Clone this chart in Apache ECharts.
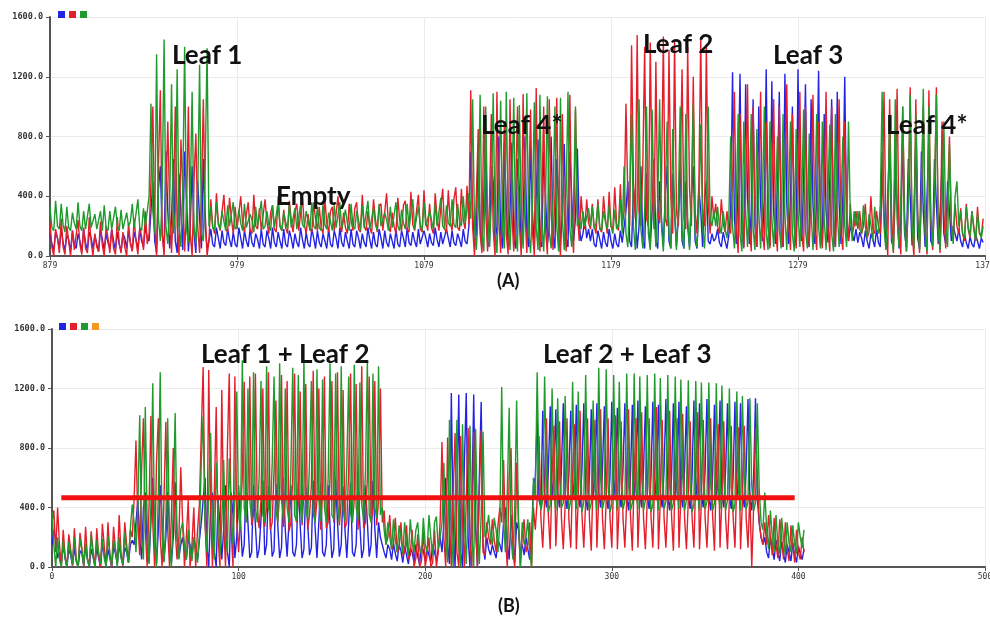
<!DOCTYPE html>
<html>
<head>
<meta charset="utf-8">
<script src="https://cdn.jsdelivr.net/npm/echarts@6/dist/echarts.min.js"></script>
<style>html,body{margin:0;padding:0;background:#fff}#c{width:990px;height:620px}</style>
</head>
<body>
<div id="c"></div>
<script>
// ---------- data (Arduino serial-plotter samples, one per x unit) ----------
const xStartA = 879;
const xStartB = 0;
const xTicksA = [879, 979, 1079, 1179, 1279, 1379];
const xTicksB = [0, 100, 200, 300, 400, 500];
const yTicks = [0, 400, 800, 1200, 1600];

const greenA = [
// baseline
330,190,170,370,200,180,350,210,160,330, 190,170,290,220,180,360,200,170,300,180, 170,350,190,200,280,180,240,300,170,340, 190,170,300,180,190,330,200,170,310,180, 180,290,200,230,350,190,200,380,190,170, 320,200,210,
// Leaf 1
400,1020,300,150,1350,250,100,400,1450,200, 80,350,1150,150,300,1250,200,60,450,1400, 180,90,380,1100,200,80,420,1280,150,100, 600,1390,
// Empty
200,330,190,170,360,210,180,300,230,170, 340,200,190,360,180,200,310,220,170,350, 190,180,280,240,160,330,200,190,370,180, 200,300,210,170,340,190,180,360,200,170,
290,230,180,350,190,200,320,180,170,340, 210,190,300,240,170,360,200,180,330,190, 170,350,210,180,290,230,170,340,190,200, 360,180,190,310,220,170,350,200,180,300,
240,170,340,190,200,370,180,190,320,210, 170,350,200,190,290,240,170,330,190,180, 360,200,170,310,220,180,350,190,200,380, 180,190,330,210,170,360,200,190,300,240,
180,350,200,190,390,200,180,340,220,200, 380,210,190,350,230,200,400,220,210,420,
// Leaf 4*
250,1050,200,40,300,1080,150,30,1000,250, 60,350,1090,180,20,400,1040,200,50,1100, 220,40,380,1060,150,30,1010,260,50,420, 1090,170,20,350,1030,190,40,1080,230,30, 400,1070,160,50,380,1000,200,30,1060,250, 40,420,1100,180,60,350,1000,200,250,180, 300,200,260,320,
// transition
200,330,180,220,350,190,170,300,230,180,340,200,150,310,180,200,380,150,
// Leaf 2
600,150,60,400,950,200,40,350,1050,180, 50,300,1000,150,40,980,300,60,350,1050, 200,30,400,900,150,50,850,300,40,350, 1000,180,50,950,250,40,400,1020,150,60, 300,880,200,50,350,1000,250,200,300,
// transition
200,330,200,150,300,180,120,250,
// Leaf 3
800,200,50,350,950,150,30,900,300,60, 400,950,180,40,850,300,50,380,1000,150, 40,900,250,60,350,800,180,50,950,280, 40,400,900,150,30,850,300,60,380,980, 170,50,820,300,40,350,950,200,50,900, 250,40,400,880,150,30,950,300,60,350, 800,200,60,900,250,100,300,200,
// transition
300,180,150,340,200,120,280,210,100,330,180,150,
// Leaf 4*
350,1100,200,40,300,900,150,30,1050,250, 60,400,1000,180,30,350,1080,200,50,950, 250,40,380,1120,150,30,1000,260,60,420, 1080,170,40,350,900,200,60,750,230,80, 400,500,200,
// end
300,150,120,330,200,130,300,180,100,280,170,120,200
];

const redA = [
230,60,0,180,120,20,250,60,10,200, 100,0,170,40,30,240,80,10,190,50, 20,260,90,0,150,60,30,230,70,0, 200,120,20,180,50,10,260,90,20,160, 60,0,220,80,30,250,100,10,190,130, 40,300,80,
150,500,1000,200,0,600,1110,150,0,400, 900,300,20,350,1000,200,0,780,450,30, 300,1000,150,0,500,820,200,20,400,1050, 300,0,
100,380,200,150,420,230,170,300,410,180, 160,390,250,150,330,180,170,400,220,160, 280,360,170,150,410,200,180,320,170,160, 380,230,150,290,340,180,160,400,200,170,
310,190,150,370,240,160,300,350,170,180, 390,210,150,280,180,160,360,250,170,330, 190,150,380,220,160,300,330,170,180,400, 200,160,290,190,150,350,240,170,320,360,
180,160,410,200,170,300,190,150,380,250, 160,330,350,170,180,420,200,160,290,200, 150,390,240,170,340,370,180,160,430,210, 170,300,410,180,160,440,230,170,350,190,
150,420,250,170,330,450,180,160,440,230, 170,380,460,190,170,450,240,180,470,210,
1110,200,0,400,850,150,20,1000,300,30, 350,950,180,0,1100,250,20,400,900,150, 10,1050,280,30,380,1000,200,0,1085,300, 20,420,980,160,0,1125,250,30,350,1000, 180,10,1050,300,40,400,1060,150,0,950, 280,30,380,1080,200,20,980,300,100,400, 250,180,380,220,
180,350,200,150,380,180,160,400,250,150,430,200,180,460,220,170,480,200,
300,1020,400,200,1410,500,250,1480,300,200, 600,1400,250,200,1430,450,180,1300,300,220, 500,1470,250,200,1380,400,150,1450,300,200, 550,1250,250,180,1400,450,200,1200,300,150, 500,1460,300,200,1420,350,150,400,250,
350,200,150,380,220,160,300,180,
150,500,1100,200,20,950,350,50,400,1150, 200,30,1000,300,60,450,1100,150,40,900, 350,50,400,1050,180,30,1000,280,60,500, 1150,200,40,950,300,50,420,1100,150,30, 1000,250,60,450,1080,180,40,900,300,50, 400,1100,200,30,1000,280,60,450,1050,150, 40,900,300,100,350,150,200,300,
180,300,150,200,350,120,160,400,180,150,300,200,
150,400,1100,200,0,1050,300,20,400,1120, 180,10,1000,280,30,380,1130,150,0,1050, 300,20,420,1000,180,10,1110,250,40,350, 1130,200,20,900,300,50,400,800,200,100, 350,200,150,
320,150,100,350,180,120,300,200,100,330,150,130,250
];

const blueA = [
150,80,40,160,120,50,180,90,40,140, 110,30,170,80,50,150,100,30,180,90, 40,160,120,50,140,80,30,170,110,40, 150,90,50,180,100,40,160,80,30,150, 120,50,170,90,40,160,110,50,180,100, 60,200,120,
100,300,500,100,20,450,600,150,30,700, 300,50,250,650,100,20,550,300,40,700, 400,30,200,600,150,20,500,250,50,650, 200,50,
100,180,80,60,190,120,50,170,90,70, 180,110,60,160,80,60,190,120,50,170, 100,60,180,90,60,150,110,50,180,80, 60,170,120,50,190,90,60,160,100,50,
180,80,60,170,120,50,150,90,60,190, 110,50,160,80,60,180,120,50,170,90, 60,150,100,50,180,80,60,170,120,50, 190,90,60,160,100,50,180,80,60,170,
120,50,150,90,60,190,110,50,160,80, 60,180,120,50,170,90,60,150,100,50, 180,80,60,170,120,60,190,90,70,160, 100,60,180,80,70,170,120,60,150,90,
70,190,110,60,160,80,70,180,120,60, 170,90,70,150,110,60,180,100,80,200,
700,300,60,150,750,200,50,400,780,100, 60,600,500,80,200,800,150,50,700,350, 60,300,760,120,50,650,450,70,250,800, 150,60,720,300,50,400,780,100,60,700, 400,80,200,800,150,50,650,350,70,300, 750,120,60,700,400,100,250,720,200,100, 150,250,120,180,
100,180,80,60,170,110,50,160,90,60,180,100,50,150,80,60,170,90,
80,300,500,100,60,450,300,50,200,600, 100,50,550,200,60,300,650,100,50,500, 250,60,400,600,100,50,550,300,60,250, 650,100,50,500,200,60,400,600,100,50, 450,300,60,350,500,100,80,150,100,
120,180,90,60,160,100,50,140,
300,1230,250,80,500,1220,150,60,1150,400, 80,300,1050,200,60,1000,350,100,400,1250, 200,70,1170,300,80,500,1100,150,60,1220, 350,80,400,1000,200,70,1250,300,100,500, 1150,150,60,1050,350,80,400,1240,200,70, 950,300,90,500,1050,150,60,1100,350,80, 400,1200,200,100,200,150,100,180,
90,160,120,60,170,100,50,150,110,60,180,90,
60,700,300,50,400,780,100,60,720,350, 50,250,800,150,60,650,400,70,300,760, 120,50,700,300,60,400,780,100,70,650, 350,80,300,600,150,80,500,300,100,200, 150,100,180,
100,60,150,90,50,130,80,60,140,100,50,120,90
];

const greenB = [
370,150,0,200,50,0,180,60,0,170, 90,20,200,40,0,190,110,10,160,50, 0,220,70,0,180,100,20,190,60,0, 210,90,10,180,120,0,200,60,20,230, 100,30,260,420,
300,100,400,1020,200,50,1075,300,20,400, 1235,150,0,500,1310,200,30,300,1000,150, 0,400,1035,200,50,250,
300,150,50,250,120,40,200,100,30,220,700,
1010,300,100,500,900,200,50,700,400,80, 300,720,200,100,730,400,150,500,1180,350, 250,1390,400,300,1200,450,320,1310,400,300, 600,1250,350,300,1350,400,330,700,1280,380,
300,1370,450,320,1200,400,300,650,1340,350, 310,1290,420,300,1380,400,320,700,1250,360, 300,1330,450,310,1260,400,300,600,1370,350, 320,1300,420,300,1350,380,310,700,1280,360,
300,1360,400,320,1240,420,310,650,1380,350, 300,1300,400,330,1350,350,
400,250,150,300,200,120,320,180,100,280, 200,90,300,150,80,320,180,100,250,300, 120,90,330,150,100,350,200,80,300,340, 120,200,
300,700,200,30,990,300,0,400,990,150, 0,960,300,20,400,950,200,0,930,300, 20,350,910,200,
250,350,200,150,330,250,100,300,
1210,300,100,500,1070,200,50,400,1120,300,0,
300,150,200,320,100,0,600,
450,1310,600,380, 450,1280,550,370, 420,1200,500, 380,1135,600,400, 430,1150,550,380, 450,1245,500,
390,1180,600,370, 440,1290,520,380, 430,1120,550, 380,1340,600,390, 450,1330,550,370, 420,1290,500,
380,1245,600,390, 440,1300,550,380, 430,1300,520, 390,1280,600,380, 450,1290,550,370, 420,1300,500,
380,1270,600,390, 440,1290,540,380, 430,1280,520, 390,1260,600,380, 450,1255,550,370, 420,1250,500,
380,1240,600,390, 440,1240,550,380, 430,1235,520, 390,1220,600,380, 450,1200,550,370, 420,1180,500,
380,1150,600,390, 440,1135,550,380, 430,1100,520, 300,250,
500,250,120,380,200,100,350,150,90,330, 200,80,300,160,100,280,150,90,300,200, 130,250
];

const redB = [
300,380,100,400,150,0,250,80,0,220, 120,10,260,50,0,230,130,0,270,60, 10,240,110,0,260,70,0,290,140,10, 300,80,0,270,120,20,350,90,10,300, 150,30,250,200,
450,850,300,80,650,1000,250,0,400,1015, 300,0,700,1000,200,0,450,975,250,0, 350,800,250,50,200,670,
300,0,200,450,0,150,400,0,250,420,900,
1345,300,0,1325,400,0,500,1075,200,0, 1190,300,0,800,1300,250,0,1280,300,100, 350,600,1245,300,500,1280,280,350,1300,400, 260,450,1200,270,400,1310,250,300,650,1120,
300,500,1290,270,450,1250,240,300,600,1300, 300,450,1180,280,500,1230,250,350,550,1320, 300,450,1200,250,500,1280,260,300,600,1250, 300,500,1310,280,450,1190,260,300,650,1300,
300,450,1230,250,500,1350,260,300,600,1280, 300,400,1250,280,450,1200,
300,380,150,200,350,120,150,330,100,120, 300,80,100,280,50,80,250,0,60,220, 0,40,240,0,80,200,0,30,250,0, 100,300,
840,200,0,870,300,0,500,900,100,0, 880,300,0,450,935,150,0,910,250,0, 500,920,100,80,
300,200,150,320,180,100,280,400,
300,720,200,0,600,800,100,0,700,300,0,
200,320,100,150,300,0,400,
250,450,880,330, 130,450,1000,350, 120,620,950, 140,450,980,330, 120,420,1000,320, 130,600,960,
120,450,1050,350, 130,440,1000,330, 110,620,990, 130,460,1060,330, 120,450,1000,340, 130,600,1020,
120,440,980,330, 130,450,1060,350, 110,620,1000, 130,460,1040,330, 120,450,1000,340, 130,600,1075,
120,440,990,330, 130,450,1050,350, 110,620,1000, 130,460,1030,330, 120,450,980,340, 130,600,1040,
120,440,990,330, 130,450,1000,350, 110,620,960, 130,460,980,330, 120,450,950,340, 130,600,940,
120,440,950,330, 130,500,0,400, 935,600,300, 200,150,
300,150,350,200,80,330,150,60,320,200, 50,300,120,40,280,150,30,250,100,50, 200,100
];

const blueB = [
150,250,180,60,100,20,150,60,0,120, 80,10,130,40,0,110,90,10,140,50, 0,120,70,10,130,60,0,150,80,10, 120,60,0,140,90,20,150,70,10,130, 100,30,150,180,
150,300,450,200,50,400,500,150,30,300, 600,200,20,250,550,300,40,200,500,250, 30,200,570,200,60,150,
200,100,50,180,150,60,200,120,50,180,300,
300,600,150,0,400,500,100,0,450,300, 50,250,550,100,0,500,350,60,200,550, 300,70,150,560,300,60,100,550,280,60, 120,320,580,80,150,540,300,70,110,560,
280,60,130,600,250,70,300,550,100,70, 150,570,280,60,120,540,300,80,130,580, 260,60,300,560,100,70,150,550,280,60, 120,590,300,70,150,540,250,60,300,570,
100,70,150,560,280,60,120,550,300,70, 150,580,260,60,300,200,
200,100,60,150,120,50,160,90,40,150, 110,30,140,80,20,130,100,30,150,70, 20,140,110,40,130,80,30,150,100,40, 120,200,
100,300,600,150,20,1170,300,0,500,1160, 100,0,700,1170,200,0,400,1160,300,0, 600,1110,150,50,
200,120,80,150,100,60,180,150,
100,300,400,150,50,350,200,30,300,250,100,
150,80,200,120,50,200,550,
600,1000,450,400, 1050,500,400,650, 1080,450,600, 1060,500,400,650, 1100,480,390,620, 1050,450,600,
1090,500,400,650, 1100,470,380,600, 1060,450,620, 1100,500,400,650, 1080,480,390,600, 1110,450,620,
1070,500,400,650, 1100,470,380,600, 1090,450,640, 1120,500,400,650, 1080,480,390,600, 1110,450,620,
1090,500,400,650, 1130,470,380,600, 1100,450,620, 1110,500,400,650, 1080,480,390,600, 1120,450,620,
1100,500,400,650, 1130,470,380,600, 1090,450,620, 1120,500,400,650, 1100,480,390,600, 1110,450,620,
1100,500,400,650, 1130,470,380,600, 1135,450,300, 200,150,
200,100,60,200,120,50,180,100,40,170, 90,30,150,100,40,160,80,30,140,90, 50,120
];

// threshold line drawn across panel B
const thresholdX = [5, 398];
const thresholdY = [465, 465];

// ---------- chart ----------
const BLUE = '#2323e6', RED = '#e41f2b', GREEN = '#1f9a2c', ORANGE = '#f39a1e';
function pts(start, arr) { return arr.map((v, i) => [start + i, v]); }
function lineSeries(name, x, y, data, color) {
  return { name, type: 'line', xAxisIndex: x, yAxisIndex: y, data, showSymbol: false,
           symbol: 'none', lineStyle: { color, width: 1.4 }, itemStyle: { color },
           animation: false, silent: true, z: 2 };
}
const labFont = { fontFamily: 'DejaVu Sans Mono', color: '#333' };
function yAx(g) {
  return { type: 'value', gridIndex: g, min: 0, max: 1600, interval: 400,
    axisLine: { show: true, lineStyle: { color: '#555', width: 2 } },
    axisTick: { show: true, length: 4, lineStyle: { color: '#555' } },
    axisLabel: Object.assign({ formatter: v => v.toFixed(1), fontSize: 8.5, fontWeight: 'bold', margin: 7 }, labFont),
    splitLine: { show: true, lineStyle: { color: '#ebebeb', width: 1 } } };
}
function xAx(g, min, max, ticks) {
  return { type: 'value', gridIndex: g, min, max, interval: 100,
    axisLine: { show: true, onZero: false, lineStyle: { color: '#555', width: 2 } },
    axisTick: { show: true, length: 4, customValues: ticks, lineStyle: { color: '#555' } },
    axisLabel: Object.assign({ customValues: ticks, formatter: v => String(v), fontSize: 8, margin: 6 }, labFont),
    splitLine: { show: true, lineStyle: { color: '#ebebeb', width: 1 } } };
}
function annot(text, x, y, size) {
  return { type: 'text', left: x, top: y, z: 100,
    style: { text, x: 0, y: 0, fill: '#111', font: 'bold ' + size + 'px Lato, "Open Sans", sans-serif' } };
}
function sq(x, y, color) {
  return { type: 'rect', shape: { x, y, width: 7, height: 7 }, style: { fill: color }, z: 100 };
}

const chart = echarts.init(document.getElementById('c'), null, { renderer: 'canvas' });
chart.setOption({
  animation: false,
  backgroundColor: '#fff',
  grid: [
    { left: 50, right: 5, top: 17, height: 239, containLabel: false, outerBoundsMode: 'none' },
    { left: 52, right: 5, top: 329, height: 238, containLabel: false, outerBoundsMode: 'none' }
  ],
  xAxis: [xAx(0, xTicksA[0], xTicksA[xTicksA.length - 1], xTicksA), xAx(1, xTicksB[0], xTicksB[xTicksB.length - 1], xTicksB)],
  yAxis: [yAx(0), yAx(1)],
  series: [
    lineSeries('A blue', 0, 0, pts(xStartA, blueA), BLUE),
    lineSeries('A red', 0, 0, pts(xStartA, redA), RED),
    lineSeries('A green', 0, 0, pts(xStartA, greenA), GREEN),
    lineSeries('B blue', 1, 1, pts(xStartB, blueB), BLUE),
    lineSeries('B red', 1, 1, pts(xStartB, redB), RED),
    lineSeries('B green', 1, 1, pts(xStartB, greenB), GREEN),
    { name: 'threshold', type: 'line', xAxisIndex: 1, yAxisIndex: 1, showSymbol: false, symbol: 'none',
      data: thresholdX.map((x, i) => [x, thresholdY[i]]), lineStyle: { color: '#f01010', width: 5 }, z: 5, silent: true }
  ],
  graphic: [
    sq(58, 11, BLUE), sq(69, 11, RED), sq(80, 11, GREEN),
    sq(59, 323, BLUE), sq(70, 323, RED), sq(81, 323, GREEN), sq(92, 323, ORANGE),
    annot('Leaf 1', 172, 43, 26),
    annot('Empty', 276, 184, 26),
    annot('Leaf 4*', 481, 113, 26),
    annot('Leaf 2', 643, 32, 26),
    annot('Leaf 3', 773, 43, 26),
    annot('Leaf 4*', 886, 113, 26),
    annot('(A)', 497, 272, 18),
    annot('Leaf 1 + Leaf 2', 201, 342, 26),
    annot('Leaf 2 + Leaf 3', 543, 342, 26),
    annot('(B)', 498, 597, 18)
  ]
});
</script>
</body>
</html>
